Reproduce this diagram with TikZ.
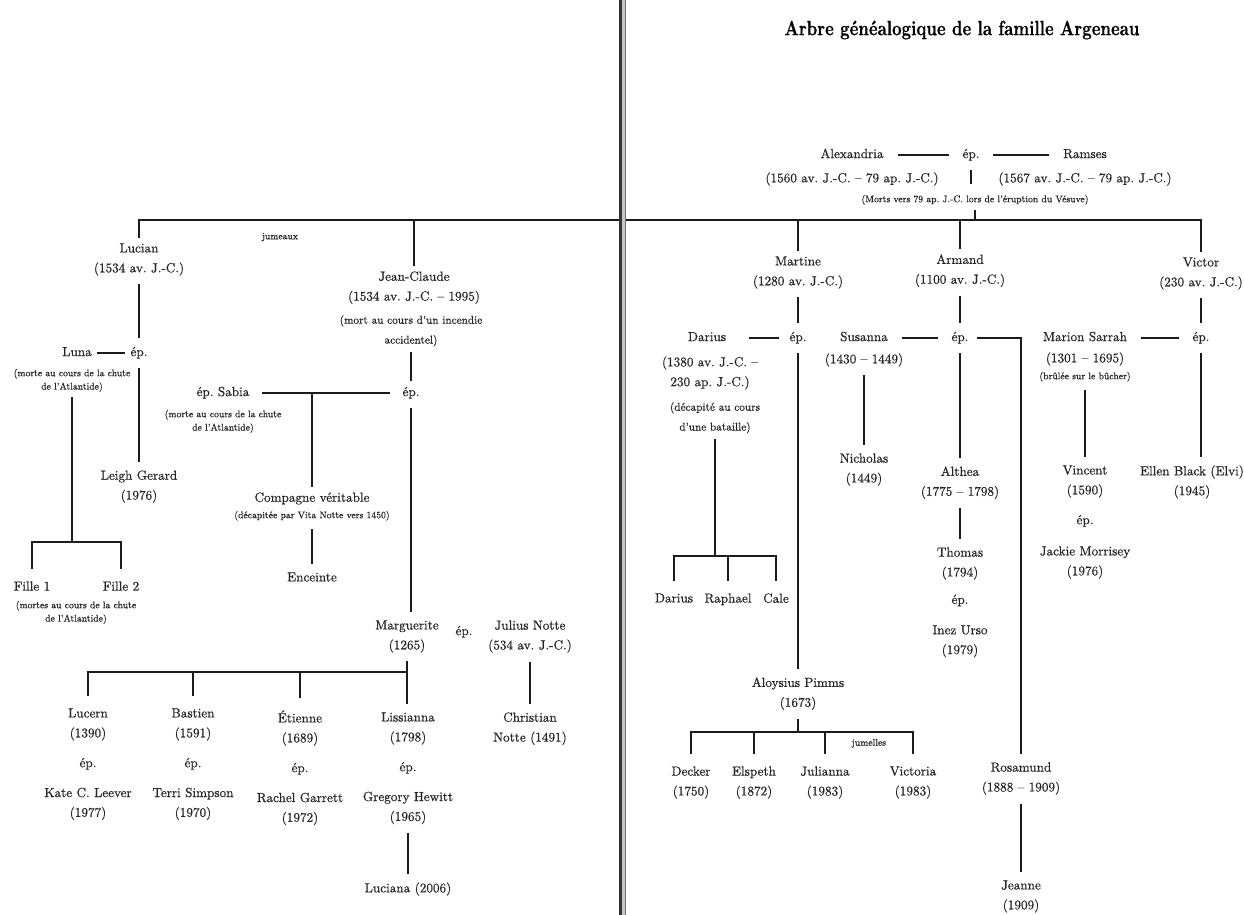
\documentclass[tikz,border=0pt]{standalone}
\usepackage{fontspec}
\setmainfont{lmroman10-regular.otf}[FakeBold=0.6, BoldFont=lmroman10-bold.otf, ItalicFont=lmroman10-italic.otf]
\newfontface\ttlFont{lmroman10-bold.otf}[FakeBold=0.5]
\usetikzlibrary{calc}
\frenchspacing
\definecolor{ink}{HTML}{262626}
\definecolor{lc}{HTML}{1c1c1c}
\newcommand\fMain{\fontsize{7.5}{11.3}\selectfont}
\newcommand\fMid{\fontsize{6.4}{11.3}\selectfont}
\newcommand\fSmall{\fontsize{5.5}{7.6}\selectfont}
\tikzset{
  every node/.style={text=ink, inner sep=1pt, outer sep=2pt},
  nm/.style={font=\fMain, text height=5.4pt, text depth=1.9pt, anchor=center},
  per/.style={font=\fMain, align=center, anchor=north, yshift=5.6pt},
  mid/.style={font=\fMid, align=center, anchor=north, yshift=5.7pt},
  sm/.style={font=\fSmall, align=center, anchor=north, yshift=5.3pt},
  br/.style={draw=lc, line width=1pt},
  ln/.style={br, shorten <=2pt, shorten >=2pt},
  sp/.style={br, shorten <=5pt, shorten >=5pt},
  drop/.style={br, shorten <=4pt, shorten >=4pt},
}
\begin{document}
\begin{tikzpicture}[x=0.02cm, y=-0.02cm]
\useasboundingbox (0,0) rectangle (1244,915);
\fill[white] (0,0) rectangle (1244,915);

% ---------- title and founders ----------
\node[font=\ttlFont\fontsize{9.4}{12}\selectfont, text=black] (title) at (962,30) {\scalebox{1}[1.25]{Arbre généalogique de la famille Argeneau}};
\node[nm] (alex) at (852,155) {Alexandria};
\node[per] (alexd) at (852,177) {(1560 av. J.-C. – 79 ap. J.-C.)};
\node[nm] (ep0) at (971,155) {ép.};
\node[nm] (ramses) at (1085,155) {Ramses};
\node[per] (ramsesd) at (1085,177) {(1567 av. J.-C. – 79 ap. J.-C.)};
\node[sm] (morts) at (975,199) {(Morts vers 79 ap. J.-C. lors de l’éruption du Vésuve)};
\coordinate (ep0t) at (971,188);
\coordinate (tl) at (140,220);

% ---------- left page ----------
\node[per] (lucian) at (139,248) {Lucian\\(1534 av. J.-C.)};
\node[sm] (jum) at (280,237) {jumeaux};
\node[per] (jc) at (414,276) {Jean-Claude\\(1534 av. J.-C. – 1995)};
\node[mid] (jcn) at (411,320) {(mort au cours d’un incendie\\accidentel)};

\node[nm] (luna) at (77,353) {Luna};
\node[nm] (epL) at (139,353) {ép.};
\node[sm] (lunan) at (72,373) {(morte au cours de la chute\\de l’Atlantide)};
\node[per] (leigh) at (139,475) {Leigh Gerard\\(1976)};
\coordinate (fb) at (70,542);
\node[per] (f1) at (32,586) {Fille 1};
\node[per] (f2) at (121,586) {Fille 2};
\node[sm] (fn) at (76,605) {(mortes au cours de la chute\\de l’Atlantide)};

\node[nm] (sabia) at (223,393) {ép. Sabia};
\node[nm] (epJ) at (411,393) {ép.};
\node[sm] (sabian) at (223,414) {(morte au cours de la chute\\de l’Atlantide)};
\coordinate (sb) at (312,393);
\node[per] (comp) at (312,497) {Compagne véritable};
\node[sm] (compn) at (312,515) {(décapitée par Vita Notte vers 1450)};
\node[per] (enc) at (312,577) {Enceinte};

\node[per] (marg) at (407,625) {Marguerite\\(1265)};
\node[nm] (epMg) at (464,632) {ép.};
\node[per] (julius) at (530,625) {Julius Notte\\(534 av. J.-C.)};
\node[per] (christ) at (530,717) {Christian\\Notte (1491)};
\coordinate (kb) at (407,672);

\node[per] (lucern) at (88,713) {Lucern\\(1390)\\[5.7pt]ép.\\[5.7pt]Kate C. Leever\\(1977)};
\node[per] (bastien) at (193,713) {Bastien\\(1591)\\[5.7pt]ép.\\[5.7pt]Terri Simpson\\(1970)};
\node[per] (etienne) at (300,715) {Étienne\\(1689)\\[5.7pt]ép.\\[5.7pt]Rachel Garrett\\(1972)};
\node[per] (liss) at (408,717) {Lissianna\\(1798)\\[5.7pt]ép.\\[5.7pt]Gregory Hewitt\\(1965)};
\node[per] (luciana) at (408,887) {Luciana (2006)};

% ---------- right page ----------
\node[per] (martine) at (798,261) {Martine\\(1280 av. J.-C.)};
\node[per] (armand) at (960,259) {Armand\\(1100 av. J.-C.)};
\node[per] (victor) at (1201,262) {Victor\\(230 av. J.-C.)};

\node[nm] (darius) at (707,338) {Darius};
\node[nm] (epMa) at (798,338) {ép.};
\node[per] (dariusd) at (710,361) {(1380 av. J.-C. –\\230 ap. J.-C.)};
\node[mid] (dariusn) at (715,407) {(décapité au cours\\d’une bataille)};
\coordinate (db) at (716,556);
\node[per] (c1) at (674,598) {Darius};
\node[per] (c2) at (728,598) {Raphael};
\node[per] (c3) at (776,598) {Cale};

\node[per] (aloy) at (798,682) {Aloysius Pimms\\(1673)};
\coordinate (ab) at (798,732);
\node[per] (decker) at (691,771) {Decker\\(1750)};
\node[per] (elspeth) at (754,771) {Elspeth\\(1872)};
\node[per] (julianna) at (825,771) {Julianna\\(1983)};
\node[per] (victoria) at (913,771) {Victoria\\(1983)};
\node[sm] (jumelles) at (869,743) {jumelles};

\node[nm] (susanna) at (864,338) {Susanna};
\node[nm] (epA) at (960,338) {ép.};
\node[per] (susannad) at (864,358) {(1430 – 1449)};
\node[per] (nicholas) at (864,458) {Nicholas\\(1449)};
\node[per] (althea) at (960,471) {Althea\\(1775 – 1798)};
\node[per] (thomas) at (960,552) {Thomas\\(1794)\\[4.3pt]ép.\\[6pt]Inez Urso\\(1979)};
\node[per] (rosa) at (1021,767) {Rosamund\\(1888 – 1909)};
\node[per] (jeanne) at (1021,885) {Jeanne\\(1909)};

\node[nm] (marion) at (1085,338) {Marion Sarrah};
\node[nm] (epV) at (1201,338) {ép.};
\node[per] (mariond) at (1085,357) {(1301 – 1695)};
\node[sm] (marionn) at (1085,376) {(brûlée sur le bûcher)};
\node[per] (vincent) at (1085,470) {Vincent\\(1590)\\[5.7pt]ép.\\[6.5pt]Jackie Morrisey\\(1976)};
\node[per] (ellen) at (1192,470) {Ellen Black (Elvi)\\(1945)};

% ---------- connectors ----------
\draw[sp] (alex) -- (ep0);
\draw[sp] (ep0) -- (ramses);
\draw[ln] (ep0) -- (ep0 |- ep0t);
\draw[br] (morts) -- (morts |- tl);
\draw[br] (lucian) -- (lucian |- tl) -- (victor |- tl) -- (victor);
\draw[br] (jc) -- (jc |- tl);
\draw[br] (martine) -- (martine |- tl);
\draw[br] (armand) -- (armand |- tl);

\draw[ln] (lucian) -- (epL);
\draw[br] (luna) -- (epL);
\draw[ln] (epL) -- (leigh);
\draw[br] (lunan) -- (lunan |- fb);
\draw[drop] (f1) -- (f1 |- fb) -- (f2 |- fb) -- (f2);

\draw[br] (jcn) -- (epJ);
\draw[br, shorten <=4pt, shorten >=4pt] (sabia) -- (epJ);
\draw[br] (sb) -- (comp);
\draw[ln] (compn) -- (enc);
\draw[ln] (epJ) -- (epJ |- marg.north);
\draw[ln] (marg.south) -- (marg.south |- liss.north);
\draw[br, shorten <=4pt] (lucern) -- (lucern |- kb) -- (marg.south |- kb);
\draw[br, shorten <=4pt] (bastien) -- (bastien |- kb);
\draw[br, shorten <=4pt] (etienne) -- (etienne |- kb);
\draw[ln] (julius) -- (christ);
\draw[ln] (liss) -- (luciana);

\draw[ln] (martine) -- (epMa);
\draw[br, shorten <=10pt, shorten >=3pt] (darius) -- (epMa);
\draw[br] (dariusn) -- (dariusn |- db);
\draw[drop] (c1) -- (c1 |- db) -- (c3 |- db) -- (c3);
\draw[br, shorten <=4pt] (c2) -- (c2 |- db);
\draw[ln] (epMa) -- (aloy);
\draw[br, shorten <=2pt] (aloy) -- (ab);
\draw[drop] (decker) -- (decker |- ab) -- (victoria |- ab) -- (victoria);
\draw[br, shorten <=4pt] (elspeth) -- (elspeth |- ab);
\draw[br, shorten <=4pt] (julianna) -- (julianna |- ab);

\draw[ln] (armand) -- (epA);
\draw[sp] (susanna) -- (epA);
\draw[ln] (susannad) -- (nicholas);
\draw[ln] (epA) -- (althea);
\draw[ln] (althea) -- (thomas);
\draw[br, shorten <=2pt, shorten >=2pt] (epA) -- (epA -| rosa) -- (rosa);
\draw[ln] (rosa) -- (jeanne);

\draw[ln] (victor) -- (epV);
\draw[sp] (marion) -- (epV);
\draw[ln] (marionn) -- (vincent);
\draw[ln] (epV) -- (epV |- ellen.north);

% ---------- book gutter ----------
\fill[gray!45] (619.5,0) rectangle (626,915);
\draw[black!80, line width=1.2pt] (620.5,0) -- (620.5,915);
\draw[black!55, line width=0.8pt] (625.5,0) -- (625.5,915);
\end{tikzpicture}
\end{document}
